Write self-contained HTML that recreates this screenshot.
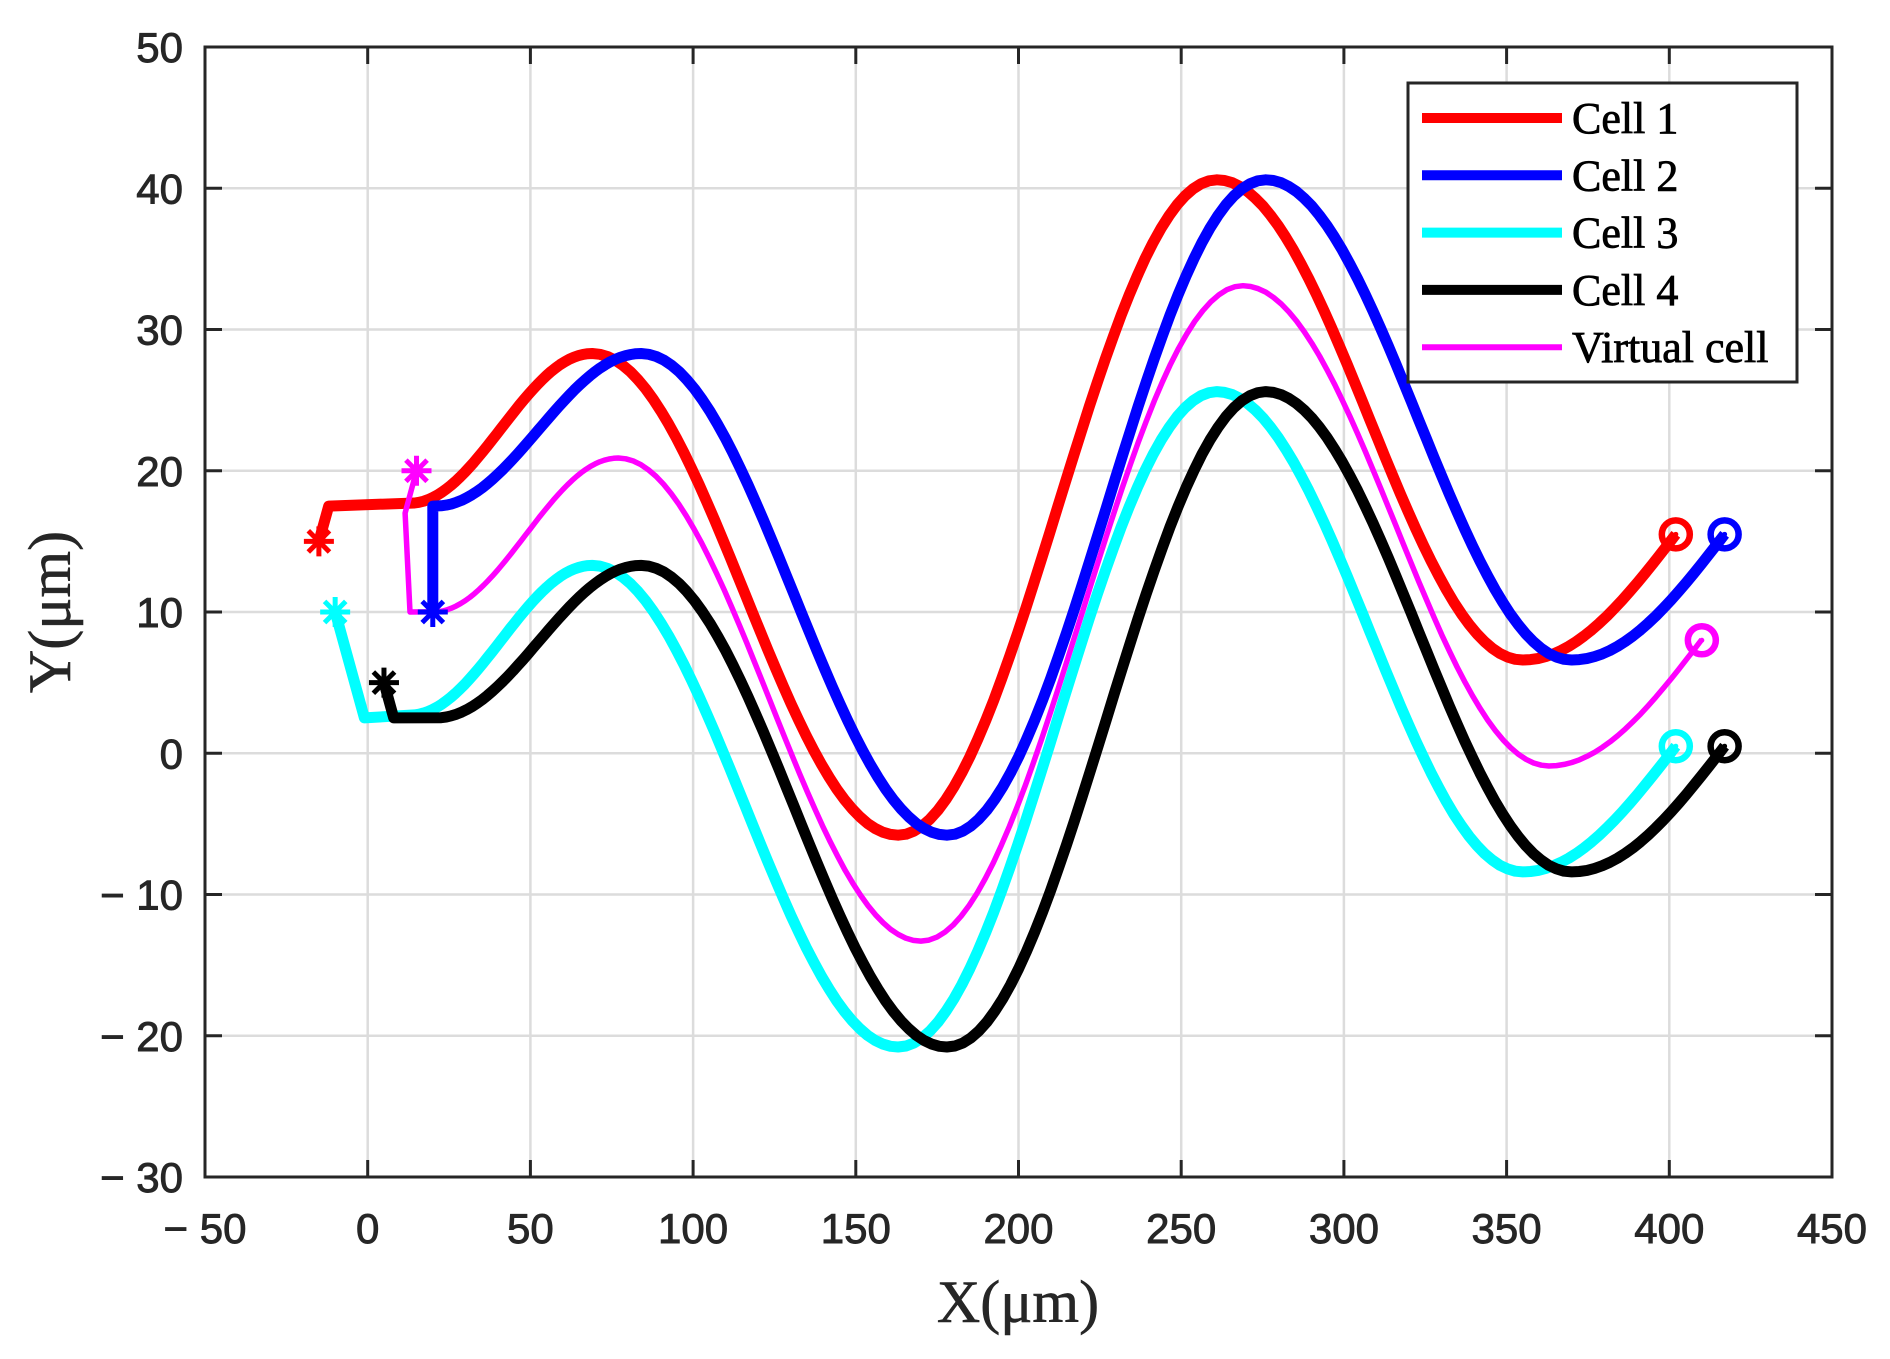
<!DOCTYPE html>
<html><head><meta charset="utf-8"><style>
html,body{margin:0;padding:0;background:#fff}
svg{display:block}
.tk{font-family:"Liberation Sans",Arial,sans-serif;font-size:42px;fill:#262626;stroke:#262626;stroke-width:0.9}
.lab{font-family:"Liberation Serif",serif;font-size:60px;fill:#262626;stroke:#262626;stroke-width:0.6}
.lg{font-family:"Liberation Serif",serif;font-size:44px;fill:#000;stroke:#000;stroke-width:0.8}
</style></head><body>
<svg id="s" width="1890" height="1359" viewBox="0 0 1890 1359" xmlns="http://www.w3.org/2000/svg"></svg>
<script>
const s=document.getElementById('s');
const X=x=>205+(x+50)*3.254, Y=y=>47+(50-y)*14.125;
let h='';
for(let x=0;x<=400;x+=50)h+=`<line x1="${X(x)}" y1="47" x2="${X(x)}" y2="1177" stroke="#dcdcdc" stroke-width="2.5"/>`;
for(let y=-20;y<=40;y+=10)h+=`<line x1="205" y1="${Y(y)}" x2="1832" y2="${Y(y)}" stroke="#dcdcdc" stroke-width="2.5"/>`;
function curve(pre,ext,endx){
  let pts=pre.slice();
  for(let i=0;i<ext.length-1;i++){
    const [x0,y0]=ext[i],[x1,y1]=ext[i+1];
    for(let k=1;k<=40;k++){const t=k/40;const x=x0+(x1-x0)*t;if(x>endx)return pts.concat([[endx,y0+(y1-y0)*(1-Math.cos(Math.PI*(endx-x0)/(x1-x0)))/2]]);
      pts.push([x,y0+(y1-y0)*(1-Math.cos(Math.PI*t))/2]);}
  }
  return pts;
}
function path(p,c,w){return `<polyline points="${p.map(q=>X(q[0]).toFixed(1)+','+Y(q[1]).toFixed(1)).join(' ')}" fill="none" stroke="${c}" stroke-width="${w}" stroke-linejoin="round"/>`;}
function star(x,y,c){const cx=X(x),cy=Y(y),r=15;let o='';for(let a=0;a<180;a+=45){const ra=(a+90)*Math.PI/180;o+=`<line x1="${cx-r*Math.cos(ra)}" y1="${cy-r*Math.sin(ra)}" x2="${cx+r*Math.cos(ra)}" y2="${cy+r*Math.sin(ra)}" stroke="${c}" stroke-width="5"/>`;}return o;}
function circ(x,y,c){return `<circle cx="${X(x)}" cy="${Y(y)}" r="14" fill="none" stroke="${c}" stroke-width="6.5"/><circle cx="${X(x)}" cy="${Y(y)}" r="2.5" fill="${c}"/>`;}
const series=[
 ['#ff0000',11,[[-15,15],[-12,17.5]],[[13,17.7],[69,28.3],[163,-5.8],[261,40.6],[355,6.6],[449,24.4]],402,[-15,15],[402,15.5]],
 ['#0000ff',11,[[20,10],[20,17.5]],[[21,17.5],[84,28.3],[178,-5.8],[276,40.6],[370,6.6],[464,24.4]],417,[20,10],[417,15.5]],
 ['#00ffff',11,[[-10,10],[-1,2.5]],[[13,2.7],[69,13.3],[163,-20.8],[261,25.6],[355,-8.4],[449,9.4]],402,[-10,10],[402,0.5]],
 ['#000000',11,[[5,5],[8,2.5]],[[21,2.5],[84,13.3],[178,-20.8],[276,25.6],[370,-8.4],[464,9.4]],417,[5,5],[417,0.5]],
 ['#ff00ff',5.5,[[15,20],[11.5,17],[13,10]],[[20,10],[77,20.9],[170,-13.3],[269,33.1],[363,-0.9],[457,17]],410,[15,20],[410,8]]
];
for(const sr of series){h+=path(curve(sr[2],sr[3],sr[4]),sr[0],sr[1]);}
for(const sr of series){h+=star(sr[5][0],sr[5][1],sr[0])+circ(sr[6][0],sr[6][1],sr[0]);}
h+=`<rect x="205" y="47" width="1627" height="1130" fill="none" stroke="#262626" stroke-width="3"/>`;
for(let x=-50;x<=450;x+=50){const px=X(x);h+=`<line x1="${px}" y1="1177" x2="${px}" y2="1160" stroke="#262626" stroke-width="3"/><line x1="${px}" y1="47" x2="${px}" y2="64" stroke="#262626" stroke-width="3"/>`;
 h+=`<text class="tk" x="${px}" y="1243" text-anchor="middle">${x<0?'\u2212 '+(-x):x}</text>`;}
for(let y=-30;y<=50;y+=10){const py=Y(y);h+=`<line x1="205" y1="${py}" x2="222" y2="${py}" stroke="#262626" stroke-width="3"/><line x1="1832" y1="${py}" x2="1815" y2="${py}" stroke="#262626" stroke-width="3"/>`;
 h+=`<text class="tk" x="183" y="${py+15}" text-anchor="end">${y<0?'\u2212 '+(-y):y}</text>`;}
h+=`<text class="lab" x="1018" y="1322" text-anchor="middle">X(μm)</text>`;
h+=`<text class="lab" transform="translate(70,612) rotate(-90)" text-anchor="middle">Y(μm)</text>`;
h+=`<rect x="1408" y="83" width="389" height="299" fill="#fff" stroke="#262626" stroke-width="3"/>`;
const L=[['#ff0000',10,'Cell 1'],['#0000ff',10,'Cell 2'],['#00ffff',10,'Cell 3'],['#000000',10,'Cell 4'],['#ff00ff',6,'Virtual cell']];
L.forEach((l,i)=>{const y=118+i*57.3;h+=`<line x1="1422" y1="${y}" x2="1562" y2="${y}" stroke="${l[0]}" stroke-width="${l[1]}"/><text class="lg" x="1572" y="${y+15}">${l[2]}</text>`;});
s.innerHTML=h;
</script>
</body></html>
